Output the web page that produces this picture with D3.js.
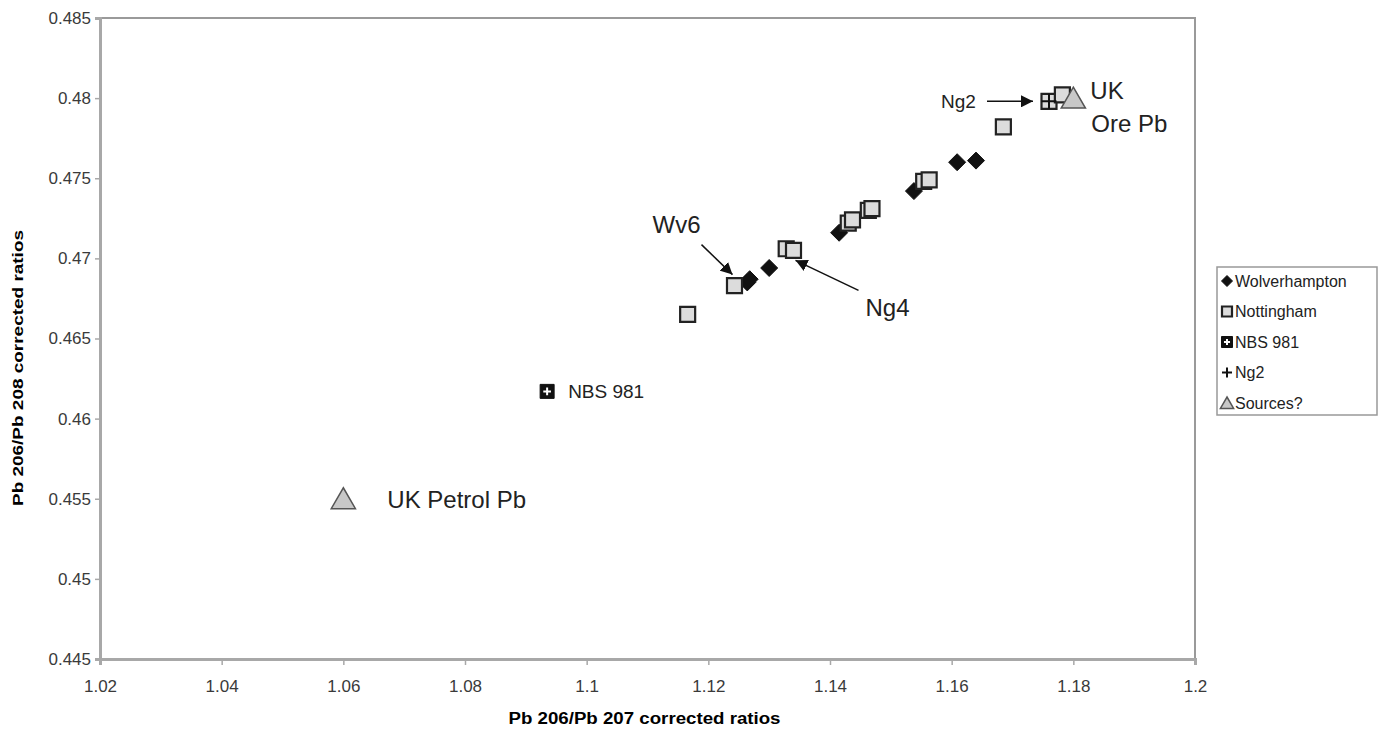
<!DOCTYPE html>
<html>
<head>
<meta charset="utf-8">
<script src="https://cdn.jsdelivr.net/npm/d3@7"></script>
<style>
  body { margin: 0; background: #fff; }
  svg text { font-family: "Liberation Sans", Arial, sans-serif; }
</style>
</head>
<body>
<svg id="figure"></svg>
<script>
// values
const wolverhamptonX = [1.1264, 1.1268, 1.1300, 1.1415, 1.1538, 1.1609, 1.1640];
const wolverhamptonY = [0.4685, 0.4687, 0.4694, 0.4716, 0.4742, 0.4760, 0.4761];

const nottinghamX = [1.1166, 1.1243, 1.1328, 1.1340, 1.1430, 1.1437, 1.1463, 1.1469, 1.1554, 1.1563, 1.1685, 1.1760, 1.1782];
const nottinghamY = [0.4665, 0.4683, 0.4706, 0.4705, 0.4722, 0.4724, 0.4730, 0.4731, 0.4748, 0.4749, 0.4782, 0.4798, 0.4802];

const nbsX = [1.0935];
const nbsY = [0.4617];

const ng2X = [1.1760];
const ng2Y = [0.4798];

const sourcesX = [1.06, 1.18];
const sourcesY = [0.455, 0.480];

const xTicks = [1.02, 1.04, 1.06, 1.08, 1.1, 1.12, 1.14, 1.16, 1.18, 1.2];
const yTicks = [0.445, 0.45, 0.455, 0.46, 0.465, 0.47, 0.475, 0.48, 0.485];

const legendNames = ["Wolverhampton", "Nottingham", "NBS 981", "Ng2", "Sources?"];

const margin = {top: 18, right: 188, bottom: 74, left: 100};
const fullW = 1383, fullH = 733;
const width = fullW - margin.left - margin.right;
const height = fullH - margin.top - margin.bottom;

const svg = d3.select("#figure")
    .attr("width", fullW)
    .attr("height", fullH);

const g = svg.append("g")
    .attr("transform", "translate(" + margin.left + "," + margin.top + ")");

const x = d3.scaleLinear().domain([1.02, 1.2]).range([0, width]);
const y = d3.scaleLinear().domain([0.445, 0.485]).range([height, 0]);

const fmt = d => String(+d.toFixed(3));

// plot frame (top / right)
g.append("rect")
    .attr("width", width).attr("height", height)
    .attr("fill", "none").attr("stroke", "#9a9a9a").attr("stroke-width", 2);

// axes
const xAxis = g.append("g")
    .attr("transform", "translate(0," + height + ")")
    .call(d3.axisBottom(x).tickValues(xTicks).tickFormat(fmt).tickSize(6).tickPadding(15));
const yAxis = g.append("g")
    .call(d3.axisLeft(y).tickValues(yTicks).tickFormat(fmt).tickSize(5).tickPadding(4));

[xAxis, yAxis].forEach(a => {
    a.select(".domain").attr("stroke", "#a8a8a8").attr("stroke-width", 3);
    a.selectAll(".tick line").attr("stroke", "#a8a8a8").attr("stroke-width", 1.5);
    a.selectAll(".tick text").attr("fill", "#3a3a3a").style("font-size", "17px");
});

// axis titles
svg.append("text")
    .attr("x", margin.left + width / 2 - 3).attr("y", 724)
    .attr("text-anchor", "middle")
    .style("font-size", "16px").style("font-weight", "bold")
    .attr("textLength", 272).attr("lengthAdjust", "spacingAndGlyphs")
    .text("Pb 206/Pb 207 corrected ratios");

svg.append("text")
    .attr("transform", "translate(23," + (margin.top + 350) + ") rotate(-90)")
    .attr("text-anchor", "middle")
    .style("font-size", "15px").style("font-weight", "bold")
    .attr("textLength", 276).attr("lengthAdjust", "spacingAndGlyphs")
    .text("Pb 206/Pb 208 corrected ratios");

// symbol helpers
const sq = (s) => `M${-s/2},${-s/2}h${s}v${s}h${-s}Z`;
const dia = (s) => `M0,${-s/2}L${s/2},0L0,${s/2}L${-s/2},0Z`;
const tri = (s) => `M0,${-s*0.5}L${s*0.55},${s*0.45}L${-s*0.55},${s*0.45}Z`;
const plus = (s) => `M${-s/2},0h${s}M0,${-s/2}v${s}`;

function drawNottingham(sel, s) {
    sel.append("path").attr("d", sq(s))
        .attr("fill", "#dcdcdc").attr("stroke", "#222").attr("stroke-width", 2.2);
}
function drawWolv(sel, s) {
    sel.append("path").attr("d", dia(s)).attr("fill", "#111").attr("stroke", "#111").attr("stroke-width", 1);
}
function drawNbs(sel, s) {
    sel.append("path").attr("d", sq(s)).attr("fill", "#111").attr("stroke", "#111");
    sel.append("path").attr("d", plus(s * 0.55)).attr("stroke", "#fff").attr("stroke-width", 2);
}
function drawNg2(sel, s) {
    sel.append("path").attr("d", plus(s)).attr("stroke", "#111").attr("stroke-width", 2);
}
function drawSource(sel, s) {
    sel.append("path").attr("d", tri(s))
        .attr("fill", "#c8c8c8").attr("stroke", "#555").attr("stroke-width", 1.5);
}

const pts = (xs, ys) => xs.map((v, i) => ({x: v, y: ys[i]}));

function plotSeries(data, drawFn, size) {
    g.append("g").selectAll("g")
        .data(data)
        .join("g")
        .attr("transform", d => `translate(${x(d.x)},${y(d.y)})`)
        .each(function () { drawFn(d3.select(this), size); });
}

plotSeries(pts(wolverhamptonX, wolverhamptonY), drawWolv, 17);
plotSeries(pts(nottinghamX, nottinghamY), drawNottingham, 15);
plotSeries(pts(nbsX, nbsY), drawNbs, 14);
plotSeries(pts(ng2X, ng2Y), drawNg2, 15);
plotSeries(pts(sourcesX, sourcesY), drawSource, 22);

// arrow marker
svg.append("defs").append("marker")
    .attr("id", "arr").attr("viewBox", "0 0 10 10")
    .attr("refX", 10).attr("refY", 5)
    .attr("markerWidth", 12).attr("markerHeight", 12)
    .attr("markerUnits", "userSpaceOnUse")
    .attr("orient", "auto")
    .append("path").attr("d", "M0,0L10,5L0,10Z").attr("fill", "#111");

// annotations (offsets from the labelled point, in pixels)
const ann = g.append("g").attr("fill", "#222");
function label(px, py, dx, dy, txt, size) {
    ann.append("text").attr("x", x(px) + dx).attr("y", y(py) + dy)
        .style("font-size", size + "px").text(txt);
}
function arrow(px, py, x1, y1, x2, y2) {
    ann.append("line")
        .attr("x1", x(px) + x1).attr("y1", y(py) + y1)
        .attr("x2", x(px) + x2).attr("y2", y(py) + y2)
        .attr("stroke", "#111").attr("stroke-width", 1.5)
        .attr("marker-end", "url(#arr)");
}

label(nbsX[0], nbsY[0], 21, 7, "NBS 981", 19);
label(sourcesX[0], sourcesY[0], 44, 9, "UK Petrol Pb", 24);
label(sourcesX[1], sourcesY[1], 17, 1, "UK", 24);
label(sourcesX[1], sourcesY[1], 18, 34, "Ore Pb", 24);

// Wv6
label(nottinghamX[1], nottinghamY[1], -82, -53, "Wv6", 24);
arrow(nottinghamX[1], nottinghamY[1], -33, -41, -2, -11);
// Ng4
label(nottinghamX[3], nottinghamY[3], 72, 66, "Ng4", 24);
arrow(nottinghamX[3], nottinghamY[3], 65, 40, 2, 10);
// Ng2
label(ng2X[0], ng2Y[0], -108, 7, "Ng2", 19);
arrow(ng2X[0], ng2Y[0], -62, 0, -16, 0);

// legend
const lg = svg.append("g").attr("transform", "translate(1217,267)");
lg.append("rect").attr("width", 160).attr("height", 148)
    .attr("fill", "#fff").attr("stroke", "#999").attr("stroke-width", 1.5);
const legendDraw = [
    s => drawWolv(s, 11),
    s => drawNottingham(s, 10),
    s => drawNbs(s, 11),
    s => drawNg2(s, 10),
    s => drawSource(s, 12)
];
legendNames.forEach((name, i) => {
    const row = lg.append("g").attr("transform", `translate(10,${14 + i * 30.5})`);
    legendDraw[i](row);
    row.append("text").attr("x", 8).attr("y", 5.5)
        .attr("fill", "#222").style("font-size", "16px").text(name);
});
</script>
</body>
</html>
